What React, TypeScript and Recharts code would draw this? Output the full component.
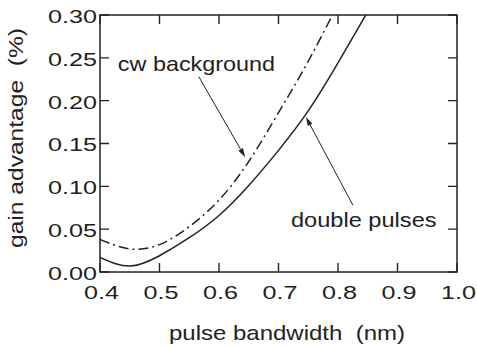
import React from 'react';
import { LineChart, Line, XAxis, YAxis, ReferenceLine, ReferenceDot, ReferenceArea } from 'recharts';

// pulse bandwidth (nm) and gain advantage (%)
const bandwidth = [0.4, 0.45, 0.5, 0.55, 0.6, 0.65, 0.7, 0.75, 0.8, 0.85];
const doublePulses = [0.017, 0.007, 0.019, 0.04, 0.066, 0.101, 0.142, 0.188, 0.244, 0.304];
const cwBackground = [0.038, 0.027, 0.032, 0.053, 0.084, 0.129, 0.186, 0.246, 0.313, null];

const xTicks = [0.4, 0.5, 0.6, 0.7, 0.8, 0.9, 1.0];
const yTicks = [0, 0.05, 0.1, 0.15, 0.2, 0.25, 0.3];
const xTickLabels = ['0.4', '0.5', '0.6', '0.7', '0.8', '0.9', '1.0'];
const yTickLabels = ['0.00', '0.05', '0.10', '0.15', '0.20', '0.25', '0.30'];

const data = bandwidth.map((x, i) => ({ x, dp: doublePulses[i], cw: cwBackground[i] }));

const INK = '#222';
const FONT = "'Liberation Sans', Arial, Helvetica, sans-serif";
const TICK = 9;

const StretchText = ({ x, y, sx, size, anchor = 'start', rotate = 0, children }: any) => (
  <text
    transform={`translate(${x},${y}) rotate(${rotate}) scale(${sx},1)`}
    textAnchor={anchor}
    fontFamily={FONT}
    fontSize={size}
    fill={INK}
    style={{ whiteSpace: 'pre' }}
  >
    {children}
  </text>
);

const BottomLabel = ({ x, y, index }: any) => (
  <StretchText x={Number(x) + 1.5} y={Number(y) + 27} sx={1.4} size={18} anchor="middle">
    {xTickLabels[index]}
  </StretchText>
);

const LeftLabel = ({ x, y, index }: any) => (
  <StretchText x={Number(x) - 3} y={Number(y) + 7.9} sx={1.4} size={18} anchor="end">
    {yTickLabels[index]}
  </StretchText>
);

const Frame = (p: any) => (
  <rect x={p.x} y={p.y} width={p.width} height={p.height} fill="none" stroke={INK} strokeWidth={1.5} />
);

// the segment covers the middle 2/3 of the axis; extend it by 1/4 each way to reach the frame,
// then draw inward tick marks at both ends
const EndTicks = (props: any) => {
  const sx = Number(props.x1);
  const sy = Number(props.y1);
  const ex = Number(props.x2);
  const ey = Number(props.y2);
  const x1 = sx - (ex - sx) * 0.25;
  const y1 = sy - (ey - sy) * 0.25;
  const x2 = ex + (ex - sx) * 0.25;
  const y2 = ey + (ey - sy) * 0.25;
  const len = Math.hypot(x2 - x1, y2 - y1) || 1;
  const ux = ((x2 - x1) / len) * TICK;
  const uy = ((y2 - y1) / len) * TICK;
  const d = `M${x1},${y1}L${x1 + ux},${y1 + uy}M${x2},${y2}L${x2 - ux},${y2 - uy}`;
  return <path d={d} stroke={INK} strokeWidth={1.4} fill="none" />;
};

const Arrow = (props: any) => {
  const x1 = Number(props.x1);
  const y1 = Number(props.y1);
  const x2 = Number(props.x2);
  const y2 = Number(props.y2);
  const a = Math.atan2(y2 - y1, x2 - x1);
  const len = 9;
  const w = 2.6;
  const bx = x2 - len * Math.cos(a);
  const by = y2 - len * Math.sin(a);
  const px = -Math.sin(a) * w;
  const py = Math.cos(a) * w;
  return (
    <g>
      <line x1={x1} y1={y1} x2={bx} y2={by} stroke={INK} strokeWidth={1} />
      <polygon points={`${x2},${y2} ${bx + px},${by + py} ${bx - px},${by - py}`} fill={INK} />
    </g>
  );
};

export default function App() {
  return (
    <div style={{ position: 'absolute', left: 0, top: 0, background: '#fff' }}>
      <LineChart width={477} height={346} data={data} margin={{ top: 15, right: 20, bottom: 0, left: 0 }}>
        <XAxis
          xAxisId="b"
          dataKey="x"
          type="number"
          domain={[0.4, 1.0]}
          ticks={xTicks}
          allowDataOverflow
          height={74}
          tickSize={0}
          tickMargin={0}
          tickLine={false}
          axisLine={false}
          tick={<BottomLabel />}
          interval={0}
          label={() => (
            <StretchText x={287} y={340} sx={1.2} size={20} anchor="middle">
              {'pulse bandwidth  (nm)'}
            </StretchText>
          )}
        />
        <YAxis
          yAxisId="l"
          type="number"
          domain={[0, 0.3]}
          ticks={yTicks}
          allowDataOverflow
          width={100}
          tickSize={0}
          tickMargin={0}
          tickLine={false}
          axisLine={false}
          tick={<LeftLabel />}
          interval={0}
          label={() => (
            <StretchText x={23} y={138} sx={1.23} size={20} anchor="middle" rotate={-90}>
              {'gain advantage  (%)'}
            </StretchText>
          )}
        />
        <ReferenceArea
          xAxisId="b"
          yAxisId="l"
          x1={0.4}
          x2={1.0}
          y1={0}
          y2={0.3}
          shape={Frame}
          ifOverflow="visible"
        />
        {xTicks.map((t) => (
          <ReferenceLine
            key={`xt${t}`}
            xAxisId="b"
            yAxisId="l"
            segment={[{ x: t, y: 0.05 }, { x: t, y: 0.25 }]}
            shape={EndTicks}
            ifOverflow="visible"
          />
        ))}
        {yTicks.map((t) => (
          <ReferenceLine
            key={`yt${t}`}
            xAxisId="b"
            yAxisId="l"
            segment={[{ x: 0.5, y: t }, { x: 0.9, y: t }]}
            shape={EndTicks}
            ifOverflow="visible"
          />
        ))}
        <Line
          xAxisId="b"
          yAxisId="l"
          type="natural"
          dataKey="dp"
          stroke={INK}
          strokeWidth={1.5}
          dot={false}
          isAnimationActive={false}
        />
        <Line
          xAxisId="b"
          yAxisId="l"
          type="natural"
          dataKey="cw"
          stroke={INK}
          strokeWidth={1.5}
          strokeDasharray="10 4 2 4"
          dot={false}
          isAnimationActive={false}
        />
        <ReferenceLine
          xAxisId="b"
          yAxisId="l"
          segment={[{ x: 0.566, y: 0.228 }, { x: 0.644, y: 0.134 }]}
          shape={Arrow}
          ifOverflow="visible"
        />
        <ReferenceLine
          xAxisId="b"
          yAxisId="l"
          segment={[{ x: 0.825, y: 0.078 }, { x: 0.746, y: 0.181 }]}
          shape={Arrow}
          ifOverflow="visible"
        />
        <ReferenceDot
          xAxisId="b"
          yAxisId="l"
          x={0.43}
          y={0.235}
          r={0}
          ifOverflow="visible"
          shape={(p: any) => (
            <StretchText x={p.cx} y={p.cy} sx={1.17} size={20}>
              cw background
            </StretchText>
          )}
        />
        <ReferenceDot
          xAxisId="b"
          yAxisId="l"
          x={0.721}
          y={0.053}
          r={0}
          ifOverflow="visible"
          shape={(p: any) => (
            <StretchText x={p.cx} y={p.cy} sx={1.18} size={20}>
              double pulses
            </StretchText>
          )}
        />
      </LineChart>
    </div>
  );
}
